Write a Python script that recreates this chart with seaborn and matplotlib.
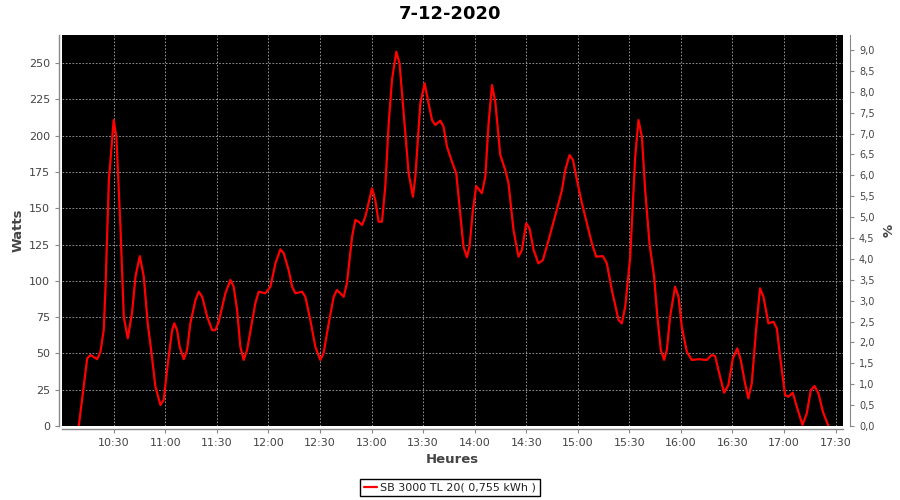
import numpy as np
import pandas as pd
import seaborn as sns
import matplotlib.pyplot as plt
import matplotlib.dates as mdates
from matplotlib.ticker import FuncFormatter

# 1. data: minutes after 10:00 and power in watts
minutes_after_10h = [
    9.7, 14.6, 16.5, 20.4, 22.3, 24.2, 25.2, 27.2, 30.0, 31.6, 34.0, 35.9, 38.2,
    40.7, 42.7, 45.2, 47.5, 49.8, 51.8, 54.3, 57.2, 59.1, 61.5, 64.0, 65.3, 66.9,
    68.4, 70.8, 72.7, 74.6, 77.6, 79.5, 81.5, 84.4, 87.3, 89.2, 91.1, 95.0, 97.9,
    99.8, 101.8, 103.7, 105.6, 107.6, 110.5, 112.4, 114.4, 118.3, 121.2, 124.1,
    127.0, 128.9, 131.8, 133.8, 135.7, 139.6, 141.5, 144.4, 147.3, 150.2, 152.1,
    155.1, 158.0, 159.9, 163.8, 165.7, 168.7, 170.6, 172.5, 174.5, 176.4, 180.3,
    182.2, 184.1, 186.1, 188.0, 190.0, 191.9, 194.4, 196.3, 198.7, 201.6, 204.1,
    205.5, 208.4, 210.9, 213.2, 215.2, 217.1, 220.0, 221.9, 223.9, 226.8, 229.3,
    231.2, 233.5, 235.5, 237.0, 239.0, 240.9, 244.2, 246.2, 248.1, 250.1, 252.0,
    254.9, 257.8, 259.7, 262.6, 265.5, 267.5, 270.0, 271.9, 274.3, 277.1, 279.7,
    283.0, 285.9, 288.8, 290.8, 292.7, 295.2, 297.2, 299.5, 302.4, 305.3, 308.2,
    310.7, 314.6, 316.9, 319.8, 323.7, 325.6, 327.6, 330.5, 333.4, 335.3, 337.3,
    339.2, 341.7, 344.4, 346.3, 348.3, 350.2, 351.8, 353.7, 356.6, 358.6, 360.5,
    363.4, 366.3, 370.2, 375.0, 377.9, 379.9, 381.8, 385.1, 387.6, 390.2, 392.8,
    394.8, 397.3, 399.2, 401.2, 403.7, 406.0, 408.0, 410.9, 413.8, 415.8, 417.7,
    420.6, 422.5, 425.1, 427.4, 430.7, 433.2, 435.6, 437.7, 440.0, 442.6, 445.8,
]
watts = [
    0, 46.6, 48.9, 46, 51, 66, 93.7, 169, 210.7, 199, 135, 75, 60.4,
    78, 103, 117, 103, 70.7, 52.3, 27, 14.5, 18, 43, 66, 70.7, 66,
    54.6, 46, 52.3, 70.7, 86.8, 92.5, 89, 75.3, 66, 66, 71.8, 91.4, 100.6,
    96, 80, 54.6, 45.5, 52.3, 72, 84.5, 92.5, 91.4, 96, 112,
    121.7, 119, 107.4, 96, 91.4, 92.5, 89, 73, 54.6, 45.5, 50,
    70.7, 89, 93.7, 89, 98.3, 130.4, 141.9, 140.7, 138.4, 144.1, 163.7,
    155.6, 140.7, 140.7, 164.8, 208.5, 238.3, 257.8, 249.8, 215.4, 174, 157.9,
    171.7, 222.2, 236, 222.2, 210.7, 207.3, 210.3, 206.1, 192.4, 182, 174,
    151, 123.5, 116.2, 123.5, 148.8, 165.3, 160.3, 171.7, 208.5, 234.8, 223.3,
    186.6, 176.3, 167.1, 135, 116.6, 121.2, 139.6, 136.2, 121.2, 112, 114.3,
    128, 140.7, 153.4, 162.5, 176.3, 186.6, 183.2, 169.4, 153.4, 139.6, 125.8,
    116.6, 117, 112, 93.7, 73, 70.7, 82.2, 116.6, 185.5, 210.7, 199.2,
    162.5, 125.8, 102.8, 75.3, 52.3, 45.5, 52.3, 75.3, 96, 89, 68.4,
    51.2, 45.5, 46, 45.5, 48.9, 48.2, 38.6, 22.9, 28.2, 46.6, 53.5,
    45.5, 29.4, 19, 29.4, 66.1, 94.8, 89, 70.7, 71.8, 67.3, 47.7,
    21.3, 20.2, 22.9, 13.3, 0.7, 8.7, 24.8, 27.5, 22.5, 9.8, 0,
]
x_ticks = ["10:30", "11:00", "11:30", "12:00", "12:30", "13:00", "13:30", "14:00",
           "14:30", "15:00", "15:30", "16:00", "16:30", "17:00", "17:30"]
series_label = "SB 3000 TL 20( 0,755 kWh )"
title = "7-12-2020"

start = pd.Timestamp("2020-12-07 10:00")
df = pd.DataFrame({
    "time": start + pd.to_timedelta(minutes_after_10h, unit="min"),
    "watts": watts,
})

# 2. style
sns.set_style("dark")
plt.rcParams["font.family"] = ["DejaVu Sans"]
grey = "#444444"

fig = plt.figure(figsize=(9, 5), dpi=100)
ax = fig.add_axes([0.069, 0.148, 0.8677, 0.782])
ax.set_facecolor("black")

sns.lineplot(data=df, x="time", y="watts", ax=ax, color="red",
             linewidth=1.6, label=series_label)

# axes ranges
ax.set_xlim(start, start + pd.Timedelta(minutes=454.3))
ax.set_ylim(0, 269.3)
ax.set_yticks(np.arange(0, 251, 25))
ax.set_xticks([pd.Timestamp(f"2020-12-07 {t}") for t in x_ticks])
ax.xaxis.set_major_formatter(mdates.DateFormatter("%H:%M"))

ax.grid(True, color="#a8a8a8", linestyle=(0, (2, 2)), linewidth=0.6)
for side in ["top", "right"]:
    ax.spines[side].set_visible(False)
for side in ["left", "bottom"]:
    ax.spines[side].set_color("#888888")
    ax.spines[side].set_linewidth(1.0)
    ax.spines[side].set_position(("outward", 2))
ax.tick_params(axis="both", colors="#888888", labelcolor=grey, labelsize=8,
               length=3, width=0.8, direction="out", left=True, bottom=True)

ax.set_xlabel("Heures", fontsize=9.5, fontweight="bold", color=grey, labelpad=4)
ax.set_ylabel("Watts", fontsize=9.5, fontweight="bold", color=grey, labelpad=3)

# right axis in %
ax2 = ax.twinx()
ax2.set_ylim(0, 9.36)
ax2.set_yticks(np.arange(0, 9.01, 0.5))
ax2.yaxis.set_major_formatter(FuncFormatter(lambda v, p: f"{v:.1f}".replace(".", ",")))
ax2.grid(False)
for side in ["top", "left", "bottom"]:
    ax2.spines[side].set_visible(False)
ax2.spines["right"].set_color("#888888")
ax2.spines["right"].set_position(("outward", 5))
ax2.tick_params(axis="y", colors="#888888", labelcolor=grey, labelsize=7,
                length=3, width=0.8, direction="out", right=True)
ax2.set_ylabel("%", fontsize=9.5, fontweight="bold", color=grey, labelpad=6)

# legend below the chart
handles, labels = ax.get_legend_handles_labels()
ax.get_legend().remove()
leg = fig.legend(handles, labels, loc="center", bbox_to_anchor=(0.5, 0.025),
                 frameon=True, fancybox=False, edgecolor="black", facecolor="white",
                 framealpha=1, fontsize=8, handlelength=1.2, handletextpad=0.3,
                 borderpad=0.3)
leg.get_frame().set_linewidth(1.0)
for t in leg.get_texts():
    t.set_color("#222222")

fig.suptitle(title, fontsize=13, fontweight="bold", color="black", y=0.99)
fig.patch.set_facecolor("white")
plt.savefig("out.png", dpi=100)
plt.close()
